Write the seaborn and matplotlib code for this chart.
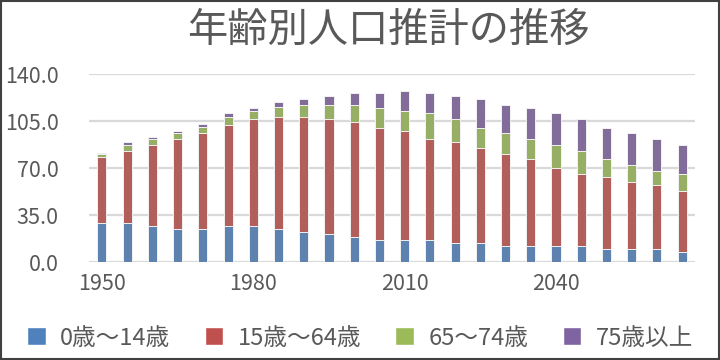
import numpy as np
import pandas as pd
import seaborn as sns
import matplotlib.pyplot as plt
from matplotlib.patches import Patch, Rectangle

years = [str(y) for y in range(1950, 2070, 5)]
age_0_14 = [29.1, 29.1, 27.2, 24.9, 24.9, 27.2, 27.2, 24.9, 22.7, 20.7, 18.5, 16.2,
            16.2, 16.2, 14.2, 14.2, 12.0, 12.0, 12.0, 12.0, 9.7, 9.7, 9.7, 7.8]
age_15_64 = [49.3, 53.6, 59.8, 66.5, 71.0, 74.9, 79.4, 83.4, 85.6, 85.7, 85.6, 83.7,
             81.7, 75.2, 75.2, 70.7, 68.7, 64.5, 58.0, 53.7, 53.8, 49.6, 47.4, 45.0]
age_65_74 = [2.1, 4.3, 4.4, 4.5, 4.5, 6.2, 6.2, 7.0, 8.8, 10.7, 13.0, 15.1,
             14.9, 19.5, 17.0, 15.2, 15.2, 15.2, 17.2, 17.2, 13.2, 12.7, 10.7, 12.7]
age_75_up = [0.6, 2.2, 2.0, 2.0, 2.3, 2.6, 2.2, 4.0, 4.4, 6.7, 8.7, 10.8,
             14.9, 14.9, 17.4, 21.4, 21.2, 23.3, 23.7, 23.5, 23.2, 23.9, 23.6, 21.7]
series_labels = ["0歳～14歳", "15歳～64歳", "65～74歳", "75歳以上"]
colors = ["#4F81BD", "#C0504D", "#9BBB59", "#8064A2"]
tick_years = ["1950", "1980", "2010", "2040"]

df = pd.DataFrame({"year": years, "a": age_0_14, "b": age_15_64,
                   "c": age_65_74, "d": age_75_up})
cum = df[["a", "b", "c", "d"]].cumsum(axis=1)

sns.set_style("white")
plt.rcParams["font.family"] = ["Noto Sans CJK JP", "DejaVu Sans"]

fig = plt.figure(figsize=(7.2, 3.6), dpi=100)
ax = fig.add_axes([0.124, 0.272, 0.841, 0.522])

# stacked bars by overlaying cumulative totals, tallest first
for col, c in zip(["d", "c", "b", "a"], colors[::-1]):
    sns.barplot(x=df["year"], y=cum[col], color=c, width=0.36, ax=ax,
                edgecolor="#F2F2F2", linewidth=0.7, zorder=3)

ax.set_ylim(0, 140)
ax.set_yticks([0, 35, 70, 105, 140])
ax.set_yticklabels([f"{v:.1f}" for v in [0, 35, 70, 105, 140]])
ax.set_xticks([years.index(y) for y in tick_years])
ax.set_xticklabels(tick_years)
ax.set_xlim(-0.5, len(years) - 0.5)
ax.set_xlabel("")
ax.set_ylabel("")
ax.grid(axis="y", color="#D9D9D9", linewidth=1.6, zorder=0)
ax.set_axisbelow(True)
for s in ax.spines.values():
    s.set_visible(False)
ax.tick_params(axis="both", length=0, labelsize=15.5, colors="#595959", pad=8)
ax.tick_params(axis="y", pad=22)

fig.text(0.54, 0.915, "年齢別人口推計の推移", ha="center", va="center",
         fontsize=29, color="#595959")

handles = [Patch(facecolor=c, edgecolor="white") for c in colors]
fig.legend(handles, series_labels, loc="lower center", ncol=4,
           bbox_to_anchor=(0.5, -0.03), frameon=False, fontsize=17,
           handlelength=0.8, handleheight=0.8, handletextpad=0.6,
           columnspacing=1.45, labelcolor="#595959")

fig.add_artist(Rectangle((0.001, 0.002), 0.997, 0.995, transform=fig.transFigure,
                         fill=False, edgecolor="#404040", linewidth=1.5))

fig.savefig("out.png", dpi=100)
